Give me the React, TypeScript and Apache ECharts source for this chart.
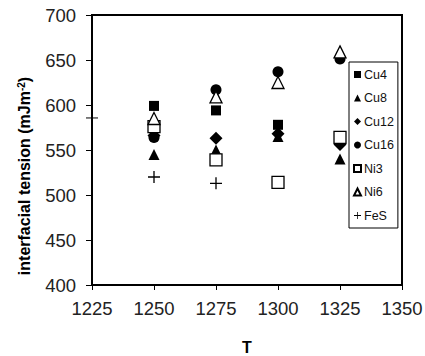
import React, { useEffect, useRef } from "react";
import * as echarts from "echarts";

const temps = [1250, 1275, 1300, 1325];
const cu4 = [599, 594, 578, 565];
const cu8 = [545, 550, 565, 540];
const cu12 = [566, 563, 568, 556];
const cu16 = [564, 617, 637, 651];
const ni3 = [576, 539, 514, 564];
const ni6 = [585, 609, 625, 659];
const fes = [520, 513, null, null];
const xTicks = [1225, 1250, 1275, 1300, 1325, 1350];
const yTicks = [400, 450, 500, 550, 600, 650, 700];
const strayTick = 585.6;
const yTitle = "interfacial tension (mJm{sup|-2})";

const FONT = 'Arial, "Liberation Sans", sans-serif';
const PLUS = "path://M4.45,0H5.55V4.45H10V5.55H5.55V10H4.45V5.55H0V4.45H4.45Z";

const pairs = (vals: (number | null)[]) =>
  temps.map((t, i) => [t, vals[i]]).filter((p) => p[1] !== null);

export default function App() {
  const ref = useRef<HTMLDivElement>(null);
  useEffect(() => {
    if (!ref.current) return;
    const chart = echarts.init(ref.current, null, { renderer: "svg" });
    const filled = { color: "#000", opacity: 1 };
    const open = { color: "#fff", borderColor: "#000", borderWidth: 1.3, opacity: 1 };
    const mk = (name: string, vals: (number | null)[], symbol: string, size: number, style: any) => ({
      name,
      type: "scatter",
      data: pairs(vals),
      symbol,
      symbolSize: size,
      itemStyle: style,
      emphasis: { disabled: true },
    });
    chart.setOption({
      animation: false,
      textStyle: { fontFamily: FONT },
      grid: {
        left: 92,
        right: 23,
        top: 15,
        bottom: 71,
        containLabel: false,
        outerBoundsMode: "none",
        show: true,
        borderColor: "#000",
        borderWidth: 2,
        backgroundColor: "transparent",
      },
      xAxis: {
        type: "value",
        min: xTicks[0],
        max: xTicks[xTicks.length - 1],
        interval: 25,
        name: "T",
        nameLocation: "middle",
        nameGap: 54,
        nameTextStyle: { fontSize: 16, lineHeight: 16, fontWeight: "bold", color: "#000", fontFamily: FONT },
        axisLine: { lineStyle: { color: "#000", width: 2 } },
        axisTick: { show: true, inside: false, length: 5, lineStyle: { color: "#000", width: 1 } },
        axisLabel: { fontSize: 18.5, color: "#222", margin: 14, fontFamily: FONT, formatter: (v: number) => String(v) },
        splitLine: { show: false },
      },
      yAxis: {
        type: "value",
        min: yTicks[0],
        max: yTicks[yTicks.length - 1],
        interval: 50,
        axisLine: { lineStyle: { color: "#000", width: 2 } },
        axisTick: { show: true, inside: false, length: 6, lineStyle: { color: "#000", width: 1 } },
        axisLabel: { fontSize: 18.5, color: "#222", margin: 16, fontFamily: FONT, formatter: (v: number) => String(v) },
        splitLine: { show: false },
      },
      legend: {
        orient: "vertical",
        left: 349,
        top: 62,
        padding: [5.5, 4, 5.5, 4],
        itemGap: 9.5,
        itemWidth: 7,
        itemHeight: 7,
        borderColor: "#000",
        borderWidth: 1,
        backgroundColor: "#fff",
        selectedMode: false,
        textStyle: { fontSize: 12.5, color: "#111", lineHeight: 14, fontFamily: FONT, padding: [0, 0, 0, -2] },
        data: ["Cu4", "Cu8", "Cu12", "Cu16", "Ni3", "Ni6", "FeS"],
      },
      series: [
        mk("Cu4", cu4, "rect", 10, filled),
        mk("Cu8", cu8, "triangle", 11, filled),
        mk("Cu12", cu12, "diamond", 13, filled),
        mk("Cu16", cu16, "circle", 11, filled),
        mk("Ni3", ni3, "rect", 12, open),
        mk("Ni6", ni6, "triangle", 12, open),
        mk("FeS", fes, PLUS, 12, filled),
      ],
    });
    const py = chart.convertToPixel({ yAxisIndex: 0 }, strayTick) as number;
    const px = chart.convertToPixel({ xAxisIndex: 0 }, xTicks[0]) as number;
    chart.setOption({
      graphic: [
        { type: "line", shape: { x1: px - 6, y1: py, x2: px + 6, y2: py }, style: { stroke: "#000", lineWidth: 1 }, silent: true },
        {
          type: "text",
          x: 24,
          y: 176,
          rotation: Math.PI / 2,
          silent: true,
          style: {
            text: yTitle,
            fontSize: 16,
            fontWeight: "bold",
            fill: "#000",
            fontFamily: FONT,
            align: "center",
            verticalAlign: "middle",
            rich: { sup: { fontSize: 10, fontWeight: "bold", verticalAlign: "top", lineHeight: 10, fill: "#000", fontFamily: FONT } },
          },
        },
      ],
    });
    return () => chart.dispose();
  }, []);
  return <div ref={ref} style={{ width: 425, height: 356, position: "absolute", left: 0, top: 0 }} />;
}
